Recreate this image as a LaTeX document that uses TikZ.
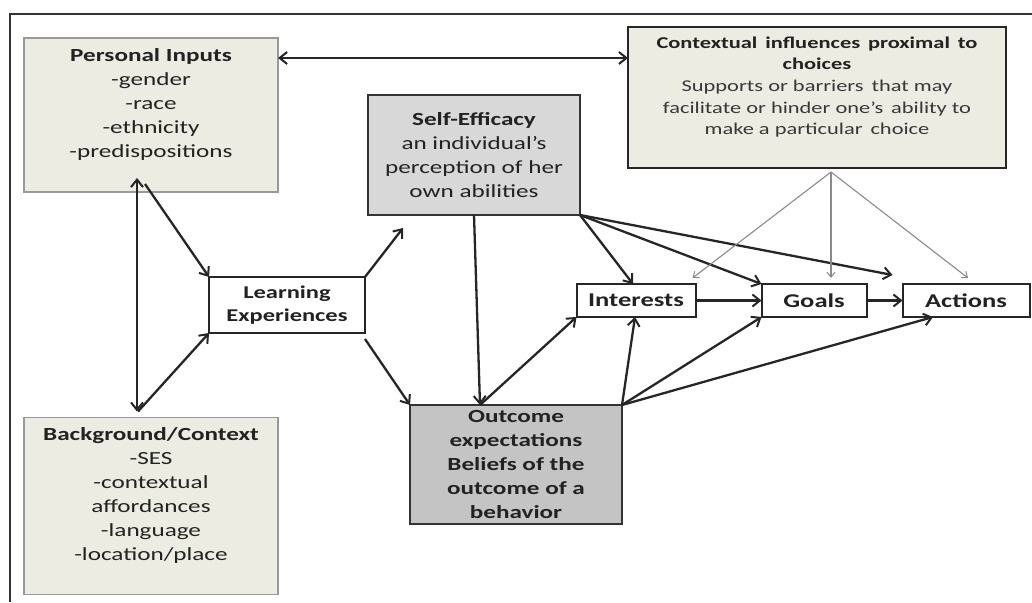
\documentclass[tikz,border=0pt]{standalone}
\usepackage{fontspec}
\setmainfont{Carlito}[FakeStretch=1.36]
\usetikzlibrary{arrows.meta,calc}
\definecolor{beige}{HTML}{ECECE2}
\definecolor{segray}{HTML}{D8D8D8}
\definecolor{oegray}{HTML}{C4C4C4}
\definecolor{txtc}{HTML}{222222}
\definecolor{thing}{HTML}{8A8A8A}
\tikzset{
  box/.style={rectangle, inner sep=0pt, outer sep=0pt},
  beigebox/.style={box, fill=beige, draw=gray!80, line width=1.2pt},
  ctxbox/.style={box, fill=beige, draw=black!85, line width=2.2pt},
  sebox/.style={box, fill=segray, draw=black!80, line width=2pt},
  oebox/.style={box, fill=oegray, draw=black!80, line width=2pt},
  whitebox/.style={box, fill=white, draw=black!85, line width=2pt},
  txt/.style={align=center, text=txtc, inner sep=0pt},
  arr/.style={-{Straight Barb[length=7.5pt,width=12pt,line width=2pt]}, line width=2.3pt, black!85},
  dbl/.style={{Straight Barb[length=7.5pt,width=12pt,line width=2pt]}-{Straight Barb[length=7.5pt,width=12pt,line width=2pt]}, line width=2.3pt, black!85},
  thinarr/.style={-{Straight Barb[length=5pt,width=8pt,line width=1pt]}, line width=1.1pt, thing},
}
\begin{document}
\begin{tikzpicture}[x=1pt,y=-1pt]
\useasboundingbox (0,0) rectangle (1032,602);
\fill[white] (0,0) rectangle (1032,602);
% frame
\draw[line width=2.5pt, black!80] (10,602) -- (10,14) -- (1032,14);

% boxes
\node[beigebox, minimum width=254pt, minimum height=154pt] (PI) at (151,115) {};
\node[txt, font=\fontsize{18.5}{24}\selectfont] (PItxt) at (151,104) {\textbf{Personal Inputs}\\-gender\\-race\\-ethnicity\\-predispositions};

\node[beigebox, minimum width=254pt, minimum height=177pt] (BG) at (151,506) {};
\node[txt, font=\fontsize{18.5}{24}\selectfont] (BGtxt) at (151,495) {\textbf{Background/Context}\\-SES\\-contextual\\affordances\\-language\\-location/place};

\node[ctxbox, minimum width=378pt, minimum height=141pt] (CI) at (817,97.5) {};
\node[txt, font=\fontsize{16.5}{21.7}\selectfont, text=black!78] (CItxt) at (817,87) {\textbf{\textcolor{txtc}{Contextual\, influences\, proximal\, to}}\\\textbf{\textcolor{txtc}{choices}}\\Supports or barriers\, that may\\facilitate or hinder one's\, ability to\\make a particular\, choice};

\node[sebox, minimum width=212pt, minimum height=120pt, txt, font=\fontsize{18.5}{24}\selectfont] (SE) at (474,155) {\textbf{Self-Efficacy}\\an individual's\\perception of her\\own abilities};

\node[oebox, minimum width=212pt, minimum height=119pt, txt, font=\fontsize{18.5}{24}\selectfont] (OE) at (516,464.5) {\textbf{Outcome}\\\textbf{expectations}\\\textbf{Beliefs of the}\\\textbf{outcome of a}\\\textbf{behavior}};

\node[whitebox, minimum width=156pt, minimum height=56pt, txt, font=\fontsize{18}{23}\selectfont\bfseries] (LE) at (287,305) {Learning\\Experiences};

\node[whitebox, minimum width=119pt, minimum height=33pt, txt, font=\fontsize{19.5}{22}\selectfont\bfseries] (IN) at (636,300.5) {Interests};
\node[whitebox, minimum width=105pt, minimum height=33pt, txt, font=\fontsize{19.5}{22}\selectfont\bfseries] (GO) at (814,300.5) {Goals};
\node[whitebox, minimum width=127pt, minimum height=33pt, txt, font=\fontsize{19.5}{22}\selectfont\bfseries] (AC) at (966,300.5) {Actions};

% arrows
\draw[dbl] ([yshift=-20pt]PI.north east) -- ([yshift=-31pt]CI.north west);
\draw[dbl] ([xshift=-14pt,yshift=14pt]PI.south) -- ([xshift=-14pt,yshift=6pt]BG.north);
\draw[arr] ([xshift=-6pt,yshift=8pt]PI.south) -- (LE.north west);
\draw[arr] ([xshift=-13pt,yshift=6pt]BG.north) -- (LE.south west);
\draw[arr] (LE.north east) -- ([xshift=35pt,yshift=-13pt]SE.south west);
\draw[arr] ([yshift=-6pt]LE.south east) -- (OE.north west);
\draw[arr] (SE.south) -- ([xshift=-36pt]OE.north);
\draw[arr] ([xshift=-36pt]OE.north) -- (IN.south west);
\draw[arr] (OE.north east) -- ([xshift=-1pt]IN.south);
\draw[arr] (OE.north east) -- (GO.south west);
\draw[arr] (OE.north east) -- ([xshift=-33pt]AC.south);
\draw[arr] (SE.south east) -- ([xshift=-3pt]IN.north);
\draw[arr] (SE.south east) -- (GO.north west);
\draw[arr] (SE.south east) -- ([xshift=-10pt,yshift=9pt]AC.north west);
\draw[arr] (IN.east) -- (GO.west);
\draw[arr] (GO.east) -- (AC.west);

\coordinate (apex) at ([xshift=14pt,yshift=-4pt]CI.south);
\draw[thinarr] (apex) -- ([xshift=-3pt,yshift=6pt]IN.north east);
\draw[thinarr] (apex) -- ([xshift=17pt,yshift=6pt]GO.north);
\draw[thinarr] (apex) -- ([xshift=2pt,yshift=6pt]AC.north);
\end{tikzpicture}
\end{document}
